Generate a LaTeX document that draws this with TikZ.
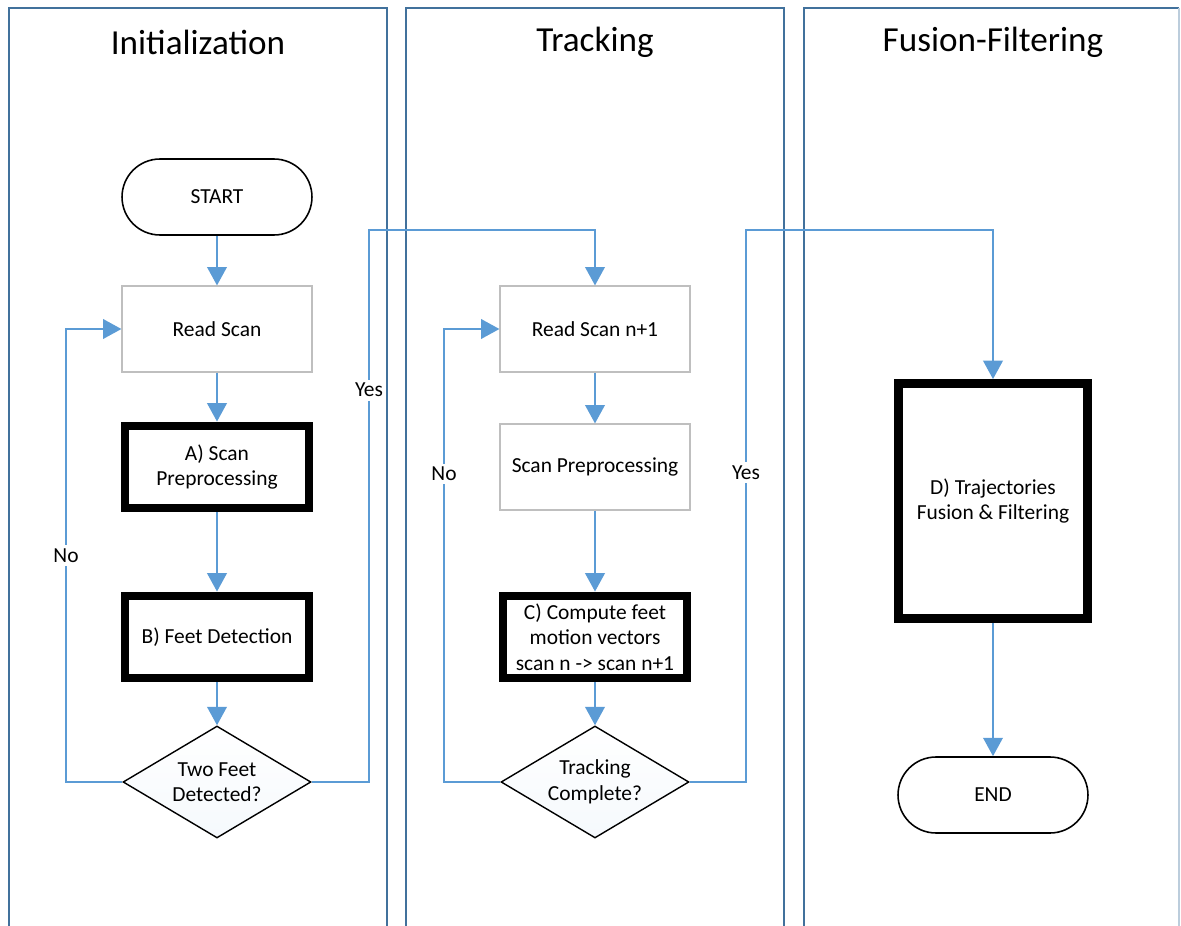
\documentclass[tikz,border=0pt]{standalone}
\usepackage{fontspec}
\setmainfont{Carlito}
\usetikzlibrary{shapes.geometric,arrows.meta}

\definecolor{lanecol}{HTML}{41719C}
\definecolor{flowcol}{HTML}{5B9BD5}
\definecolor{thinbox}{HTML}{BFBFBF}

\begin{document}
\begin{tikzpicture}[x=0.02cm,y=-0.02cm,
    every node/.style={font=\fontsize{12.2}{14.5}\selectfont,align=center},
    lane/.style={draw=lanecol,line width=1.1pt},
    lanetitle/.style={font=\fontsize{20}{24}\selectfont},
    terminal/.style={draw,line width=0.9pt,fill=white,rounded corners=0.76cm,
      minimum width=3.8cm,minimum height=1.52cm},
    plainbox/.style={draw=thinbox,line width=0.6pt,fill=white,
      minimum width=3.8cm,minimum height=1.72cm},
    keybox/.style={draw,line width=5pt,fill=white,
      minimum width=3.68cm,minimum height=1.64cm},
    decision/.style={diamond,draw,line width=0.8pt,inner sep=0pt,aspect=1.68,
      top color=white,bottom color=flowcol!6,
      minimum width=3.76cm,minimum height=2.24cm},
    flow/.style={draw=flowcol,line width=1.6pt,
      -{Triangle[width=11pt,length=10.5pt]}},
    lbl/.style={fill=white,inner sep=2pt}]

  \useasboundingbox (0,0) rectangle (1181,926);

  % swimlanes
  \draw[lane] (9,926) -- (9,8) -- (387,8) -- (387,926);
  \draw[lane] (406,926) -- (406,8) -- (784,8) -- (784,926);
  \draw[lane] (804,926) -- (804,8) -- (1179,8);
  \draw[lane,draw=lanecol!35] (1179,8) -- (1179,926);

  \node[lanetitle] (tinit)  at (198,42) {Initialization};
  \node[lanetitle] (ttrack) at (595,42) {Tracking};
  \node[lanetitle] (tfuse)  at (993,42) {Fusion-Filtering};

  % initialization
  \node[terminal] (start) at (217,197) {START};
  \node[plainbox] (read)  at (217,329) {Read Scan};
  \node[keybox]   (prep)  at (217,467) {A) Scan\\Preprocessing};
  \node[keybox]   (feet)  at (217,637) {B) Feet Detection};
  \node[decision] (two)   at (217,782) {Two Feet\\Detected?};

  % tracking
  \node[plainbox] (readn)  at (595,329) {Read Scan n+1};
  \node[plainbox] (prepn)  at (595,467) {Scan Preprocessing};
  \node[keybox]   (motion) at (595,637) {C) Compute feet\\motion vectors\\scan n -> scan n+1};
  \node[decision] (done)   at (595,782) {Tracking\\Complete?};

  % fusion and filtering
  \node[keybox,minimum width=3.78cm,minimum height=4.7cm] (fuse) at (993,501)
    {D) Trajectories\\Fusion \& Filtering};
  \node[terminal] (end) at (993,795) {END};

  % connectors
  \draw[flow] (start) -- (read);
  \draw[flow] (read) -- (prep);
  \draw[flow] (prep) -- (feet);
  \draw[flow] (feet) -- (two);
  \draw[flow] (two.west) -- (66,782) -- node[lbl]{No} (66,329) -- (read.west);
  \draw[flow] (two.east) -- (369,782) -- node[lbl,pos=0.71]{Yes} (369,230) -| (readn.north);

  \draw[flow] (readn) -- (prepn);
  \draw[flow] (prepn) -- (motion);
  \draw[flow] (motion) -- (done);
  \draw[flow] (done.west) -- (444,782) -- node[lbl,pos=0.68]{No} (444,329) -- (readn.west);
  \draw[flow] (done.east) -- (746,782) -- node[lbl,pos=0.56]{Yes} (746,230) -| (fuse.north);

  \draw[flow] (fuse) -- (end);

\end{tikzpicture}
\end{document}
